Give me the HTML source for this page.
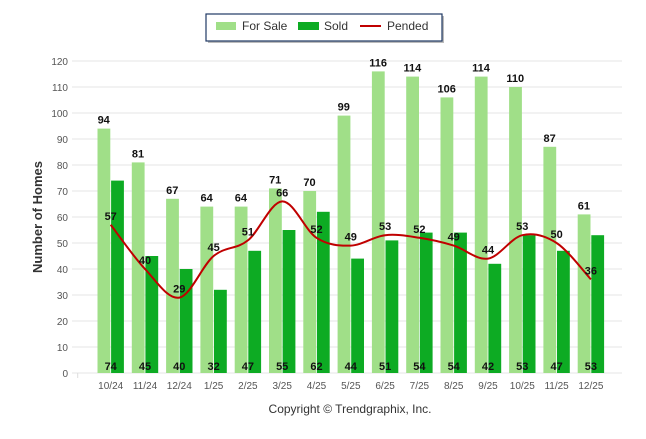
<!DOCTYPE html>
<html><head><meta charset="utf-8"><style>
body{margin:0;background:#fff;width:646px;height:434px;overflow:hidden;font-family:"Liberation Sans",sans-serif}
</style></head><body>
<svg id="c" width="646" height="434" xmlns="http://www.w3.org/2000/svg">
<g>
<rect x="208" y="16" width="236" height="27" fill="#bbb"/>
<rect x="206" y="14" width="236" height="27" fill="#fff" stroke="#1f3864" stroke-width="1.2"/>
<rect x="216" y="22" width="20" height="8" fill="#a0df88"/>
<text x="242" y="30" font-size="12" fill="#333">For Sale</text>
<rect x="298" y="22" width="21" height="8" fill="#0dab23"/>
<text x="324" y="30" font-size="12" fill="#333">Sold</text>
<line x1="360" y1="26" x2="381" y2="26" stroke="#c00000" stroke-width="2"/>
<text x="387" y="30" font-size="12" fill="#333">Pended</text>
</g>
<text transform="translate(42,217) rotate(-90)" text-anchor="middle" font-size="13" font-weight="bold" fill="#333">Number of Homes</text>
<text x="350" y="413" text-anchor="middle" font-size="12" fill="#333">Copyright © Trendgraphix, Inc.</text>
<g id="grid"></g><g id="bars"></g><g id="line"></g><g id="labels"></g>
</svg>
<script>
const categories=["10/24","11/24","12/24","1/25","2/25","3/25","4/25","5/25","6/25","7/25","8/25","9/25","10/25","11/25","12/25"];
const forSale=[94,81,67,64,64,71,70,99,116,114,106,114,110,87,61];
const sold=[74,45,40,32,47,55,62,44,51,54,54,42,53,47,53];
const pended=[57,40,29,45,51,66,52,49,53,52,49,44,53,50,36];
const yTicks=[0,10,20,30,40,50,60,70,80,90,100,110,120];
const NS="http://www.w3.org/2000/svg";
const y=v=>373-v*2.6;
const x=i=>110.7+i*34.3;
function mk(t,a,p){const e=document.createElementNS(NS,t);for(const k in a)e.setAttribute(k,a[k]);p.appendChild(e);return e;}
const grid=document.getElementById('grid'),bars=document.getElementById('bars'),line=document.getElementById('line'),labels=document.getElementById('labels');
yTicks.forEach(v=>{
  const l=mk('line',{x1:72,x2:622,y1:y(v),y2:y(v),stroke:'#e6e6e6','stroke-width':1},grid);
  
  
  const t=mk('text',{x:68,y:y(v)+4,'text-anchor':'end','font-size':10,fill:'#555'},grid);t.textContent=v;
  
  
});
mk('line',{x1:77.7,x2:77.7,y1:373,y2:378,stroke:'#ddd'},grid);
categories.forEach((c,i)=>{
  const t=mk('text',{x:x(i),y:389,'text-anchor':'middle','font-size':10,fill:'#555'},grid);t.textContent=c;
  
  
  const b1=mk('rect',{x:x(i)-13.2,y:y(forSale[i]),width:12.8,height:forSale[i]*2.6,fill:'#a0df88'},bars);
  
  
  const b2=mk('rect',{x:x(i)+0.4,y:y(sold[i]),width:12.8,height:sold[i]*2.6,fill:'#0dab23'},bars);
  
  
  const l1=mk('text',{x:x(i)-7,y:y(forSale[i])-5,'text-anchor':'middle','font-size':11,'font-weight':'bold',fill:'#111'},labels);l1.textContent=forSale[i];
  
  
  const l2=mk('text',{x:x(i),y:370,'text-anchor':'middle','font-size':11,'font-weight':'bold',fill:'#111'},labels);l2.textContent=sold[i];
  
  
  const l3=mk('text',{x:x(i),y:y(pended[i])-5,'text-anchor':'middle','font-size':11,'font-weight':'bold',fill:'#111'},labels);l3.textContent=pended[i];
  
  
});
const pts=pended.map((v,i)=>[x(i),y(v)]);
let d='M'+pts[0][0]+','+pts[0][1];
for(let i=0;i<pts.length-1;i++){
  const p0=pts[Math.max(0,i-1)],p1=pts[i],p2=pts[i+1],p3=pts[Math.min(pts.length-1,i+2)];
  const c1=[p1[0]+(p2[0]-p0[0])/6,p1[1]+(p2[1]-p0[1])/6],c2=[p2[0]-(p3[0]-p1[0])/6,p2[1]-(p3[1]-p1[1])/6];
  d+=` C${c1[0]},${c1[1]} ${c2[0]},${c2[1]} ${p2[0]},${p2[1]}`;
}
const pl=mk('path',{d:d,fill:'none',stroke:'#c00000','stroke-width':2},line);


</script>
</body></html>
